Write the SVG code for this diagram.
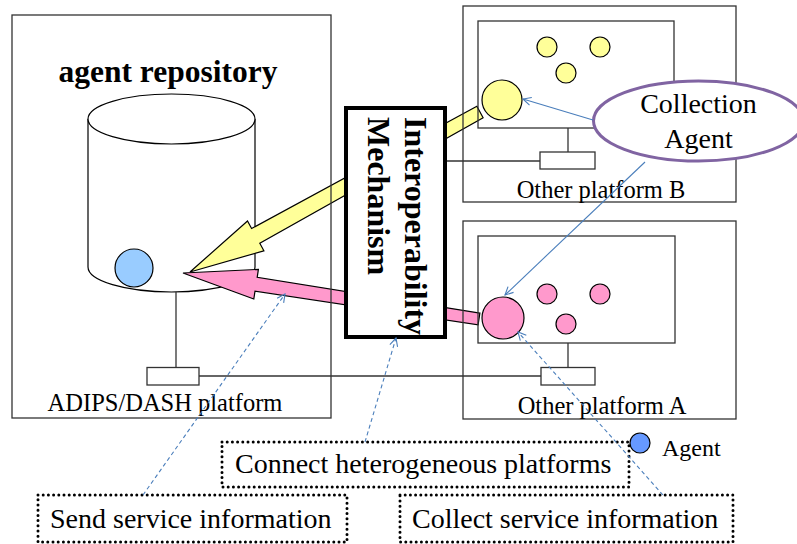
<svg xmlns="http://www.w3.org/2000/svg" width="797" height="544" viewBox="0 0 797 544">
  <style>
    .frame { fill: none; stroke: #333; stroke-width: 1.3; }
    .wire { fill: none; stroke: #333; stroke-width: 1.3; }
    .port { fill: #fff; stroke: #333; stroke-width: 1.3; }
    .txt { font-family: "Liberation Serif", "Times New Roman", serif; fill: #000; }
    .bold { font-weight: bold; }
    .yel { fill: #FFFF99; stroke: #000; stroke-width: 1.2; }
    .pnk { fill: #FF99CC; stroke: #000; stroke-width: 1.2; }
    .dot { fill: none; stroke: #000; stroke-width: 3; stroke-linecap: round; stroke-dasharray: 0 5.2; }
    .link { fill: none; stroke: #4A7EBB; stroke-width: 1.1; marker-end: url(#open); }
    .dash { stroke-dasharray: 4 3; }
  </style>
  <defs>
    <marker id="open" viewBox="0 0 10 10" refX="9" refY="5" markerWidth="10" markerHeight="10" markerUnits="userSpaceOnUse" orient="auto">
      <path d="M1,1 L9,5 L1,9" fill="none" stroke="#4A7EBB" stroke-width="1.1"/>
    </marker>
  </defs>

  <rect width="797" height="544" fill="#fff"/>

  <!-- repository cylinder (inside the ADIPS/DASH platform) -->
  <g id="repository">
    <path d="M88,119 L88,267 A83.5,25 0 0 0 255,267 L255,119" fill="#fff" stroke="#000" stroke-width="1.2"/>
    <ellipse cx="171.5" cy="119" rx="83.5" ry="25" fill="#fff" stroke="#000" stroke-width="1.2"/>
    <circle cx="134" cy="268" r="19" fill="#99CCFF" stroke="#000" stroke-width="1.2"/>
  </g>

  <!-- wiring between platforms -->
  <g id="wiring">
    <line class="wire" x1="176" y1="292" x2="176" y2="367.5"/>
    <line class="wire" x1="199" y1="376" x2="541" y2="376"/>
    <line class="wire" x1="568" y1="343" x2="568" y2="367.5"/>
    <line class="wire" x1="568" y1="128" x2="568" y2="152"/>
    <line class="wire" x1="445" y1="161" x2="540" y2="161"/>
  </g>

  <!-- transfer arrows -->
  <g id="transfers">
    <polygon class="yel" points="476.9,106.3 251.6,228.5 247.5,221 190,272 263.9,250.8 259.8,243.3 483.1,117.7"/>
    <polygon class="pnk" points="479.9,313.1 257.2,277.3 258.4,269.4 183,273 253.8,299 255,291.1 478.1,324.9"/>
  </g>

  <!-- ADIPS/DASH platform -->
  <g id="adips-platform">
    <rect class="frame" x="12" y="15" width="319" height="403"/>
    <rect class="port" x="147" y="367.5" width="52" height="17.5"/>
    <text class="txt bold" x="168" y="82" font-size="31.5" text-anchor="middle">agent repository</text>
    <text class="txt" x="165" y="411" font-size="24.5" text-anchor="middle">ADIPS/DASH platform</text>
  </g>

  <!-- Other platform B -->
  <g id="platform-b">
    <rect class="frame" x="463" y="6" width="273" height="196"/>
    <rect class="frame" x="478" y="21" width="196" height="107"/>
    <rect class="port" x="540" y="152" width="55" height="17"/>
    <circle class="yel" cx="547" cy="47" r="10"/>
    <circle class="yel" cx="600" cy="47" r="10"/>
    <circle class="yel" cx="566" cy="73" r="10"/>
    <circle class="yel" cx="502" cy="100" r="20"/>
    <text class="txt" x="601" y="198" font-size="24.5" text-anchor="middle">Other platform B</text>
  </g>

  <!-- Other platform A -->
  <g id="platform-a">
    <rect class="frame" x="463" y="221" width="273" height="198"/>
    <rect class="frame" x="478" y="236" width="197" height="107"/>
    <rect class="port" x="541" y="367.5" width="54" height="17.5"/>
    <circle class="pnk" cx="547" cy="294" r="10"/>
    <circle class="pnk" cx="600" cy="294" r="10"/>
    <circle class="pnk" cx="566" cy="324" r="10"/>
    <circle class="pnk" cx="503" cy="318" r="21"/>
    <text class="txt" x="602" y="414" font-size="24.5" text-anchor="middle">Other platform A</text>
  </g>

  <!-- interoperability mechanism -->
  <g id="interop">
    <rect x="346" y="108" width="99" height="229" fill="#fff" stroke="#000" stroke-width="4"/>
    <g transform="rotate(90)">
      <text class="txt bold" x="117" y="-405" font-size="32">Interoperability</text>
      <text class="txt bold" x="117" y="-368" font-size="32">Mechanism</text>
    </g>
  </g>

  <!-- collection agent -->
  <g id="collection-agent">
    <ellipse cx="698.5" cy="121" rx="105" ry="40" fill="#fff" stroke="#8064A2" stroke-width="3"/>
    <text class="txt" x="698.5" y="113" font-size="28" text-anchor="middle">Collection</text>
    <text class="txt" x="698.5" y="148" font-size="28" text-anchor="middle">Agent</text>
  </g>

  <!-- legend -->
  <g id="legend">
    <circle cx="640" cy="443" r="10" fill="#6699FF" stroke="#000" stroke-width="1.2"/>
    <text class="txt" x="662" y="455.5" font-size="24">Agent</text>
  </g>

  <!-- annotation boxes -->
  <g id="note-connect">
    <rect class="dot" x="222" y="442" width="407" height="45"/>
    <text class="txt" x="235" y="473" font-size="28">Connect heterogeneous platforms</text>
  </g>
  <g id="note-send">
    <rect class="dot" x="38" y="495" width="309" height="47"/>
    <text class="txt" x="50" y="528" font-size="28">Send service information</text>
  </g>
  <g id="note-collect">
    <rect class="dot" x="400" y="495" width="333" height="47"/>
    <text class="txt" x="412" y="528" font-size="28">Collect service information</text>
  </g>

  <!-- connectors -->
  <g id="connectors">
    <line class="link" x1="593" y1="120" x2="523" y2="99"/>
    <line class="link" x1="645" y1="162" x2="505" y2="295"/>
    <line class="link dash" x1="143" y1="495" x2="285" y2="294"/>
    <line class="link dash" x1="365" y1="442" x2="396" y2="338"/>
    <line class="link dash" x1="663" y1="495" x2="518" y2="332"/>
  </g>
</svg>
